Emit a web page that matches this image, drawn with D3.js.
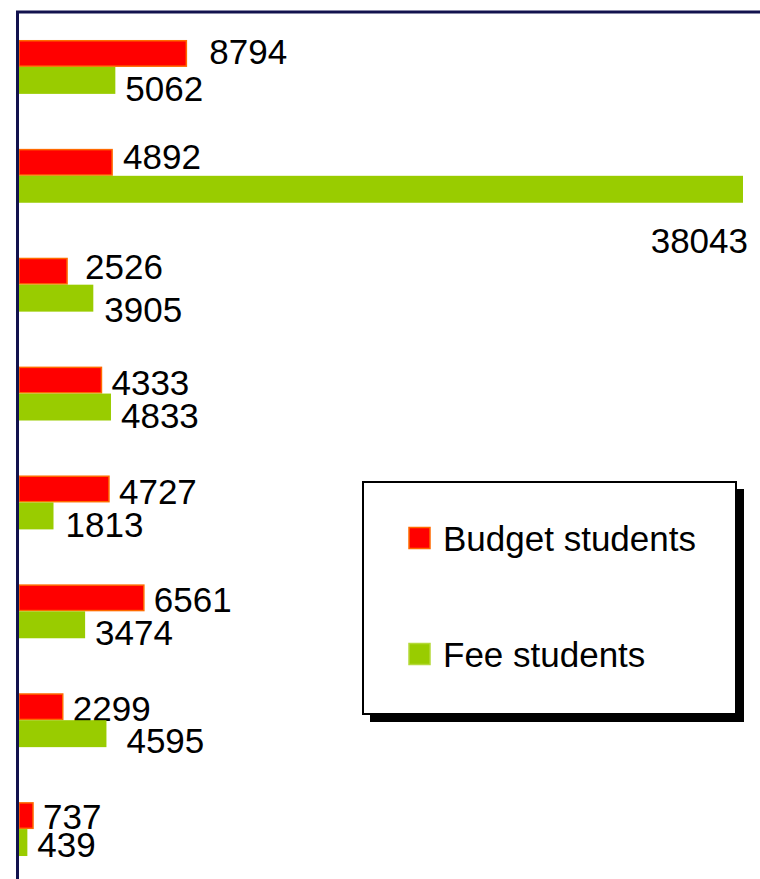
<!DOCTYPE html>
<html>
<head>
<meta charset="utf-8">
<script src="https://cdn.jsdelivr.net/npm/d3@7"></script>
<style>
  body { margin: 0; background: #fff; }
  svg { display: block; font-family: "Liberation Sans", Arial, sans-serif; }
</style>
</head>
<body>
<svg id="chart" width="760" height="879"></svg>
<script>
// groups top to bottom (category labels are cut off in the source)
const groups = ['g1', 'g2', 'g3', 'g4', 'g5', 'g6', 'g7', 'g8'];
const budgetStudents = [8794, 4892, 2526, 4333, 4727, 6561, 2299, 737];
const feeStudents = [5062, 38043, 3905, 4833, 1813, 3474, 4595, 439];
const seriesNames = ['Budget students', 'Fee students'];

// hand placed label offsets (the source chart had some labels dragged around)
const labelNudge = {
  'budget-0': { dx: 23, dy: -2 },
  'budget-1': { dx: 11, dy: -6 },
  'budget-2': { dx: 18, dy: -5 },
  'budget-7': { dy: 1 },
  'fee-2': { dx: 11, dy: 11 },
  'fee-4': { dx: 12 },
  'fee-6': { dx: 20, dy: 6.5 },
  'fee-7': { dy: 2 },
  'fee-1': { below: true }
};

const svg = d3.select('#chart');
const fontSize = 35;

const x = d3.scaleLinear()
  .domain([0, d3.max(feeStudents)])
  .range([19, 743]);

const y = d3.scaleBand()
  .domain(groups)
  .range([12, 884])
  .paddingInner(0.505)
  .paddingOuter(0.257);

const ySeries = d3.scaleBand()
  .domain(['budget', 'fee'])
  .range([0, y.bandwidth()]);

const rows = groups.map((g, i) => ({
  group: g,
  i,
  budget: budgetStudents[i],
  fee: feeStudents[i]
}));

const styles = {
  budget: { fill: '#ff0000', stroke: '#ff6a00', dy: 2 },
  fee: { fill: '#99cc00', stroke: 'none', dy: 8 }
};

const barsG = svg.append('g').attr('class', 'bars');

['budget', 'fee'].forEach(key => {
  const st = styles[key];
  barsG.selectAll('.bar-' + key)
    .data(rows)
    .enter()
    .append('rect')
    .attr('class', 'bar-' + key)
    .attr('x', x(0))
    .attr('y', d => y(d.group) + ySeries(key) + (key === 'budget' ? 0.75 : 0))
    .attr('width', d => x(d[key]) - x(0))
    .attr('height', ySeries.bandwidth() - (key === 'budget' ? 1.5 : 0))
    .attr('fill', st.fill)
    .attr('stroke', st.stroke)
    .attr('stroke-width', 1.5);

  barsG.selectAll('.label-' + key)
    .data(rows)
    .enter()
    .append('text')
    .attr('class', 'label-' + key)
    .attr('font-size', fontSize)
    .attr('fill', '#000')
    .each(function (d) {
      const nudge = labelNudge[key + '-' + d.i] || {};
      const cy = y(d.group) + ySeries(key) + ySeries.bandwidth() / 2;
      const t = d3.select(this).text(d[key]);
      if (nudge.below) {
        t.attr('text-anchor', 'end')
          .attr('x', x(d[key]) + 5)
          .attr('y', cy + 51 + fontSize * 0.36);
      } else {
        t.attr('x', x(d[key]) + (nudge.dx !== undefined ? nudge.dx : 10))
          .attr('y', cy + (nudge.dy !== undefined ? nudge.dy : st.dy) + fontSize * 0.36);
      }
    });
});

// plot frame (top and left edges)
svg.append('path')
  .attr('d', 'M17.5,879 V12 H760')
  .attr('fill', 'none')
  .attr('stroke', '#12124e')
  .attr('stroke-width', 3);

// legend
const legend = svg.append('g').attr('class', 'legend');
legend.append('rect')
  .attr('x', 370).attr('y', 489)
  .attr('width', 374).attr('height', 233)
  .attr('fill', '#000');
legend.append('rect')
  .attr('x', 363).attr('y', 482)
  .attr('width', 373).attr('height', 232)
  .attr('fill', '#fff')
  .attr('stroke', '#000')
  .attr('stroke-width', 2);

const legendRows = [
  { name: seriesNames[0], key: 'budget', cy: 538 },
  { name: seriesNames[1], key: 'fee', cy: 654 }
];
legendRows.forEach(r => {
  const st = styles[r.key];
  legend.append('rect')
    .attr('x', 409).attr('y', r.cy - 10.5)
    .attr('width', 21).attr('height', 21)
    .attr('fill', st.fill)
    .attr('stroke', r.key === 'budget' ? st.stroke : '#b5d93a')
    .attr('stroke-width', 1.5);
  legend.append('text')
    .attr('x', 443)
    .attr('y', r.cy + fontSize * 0.36)
    .attr('font-size', fontSize)
    .attr('fill', '#000')
    .text(r.name);
});
</script>
</body>
</html>
